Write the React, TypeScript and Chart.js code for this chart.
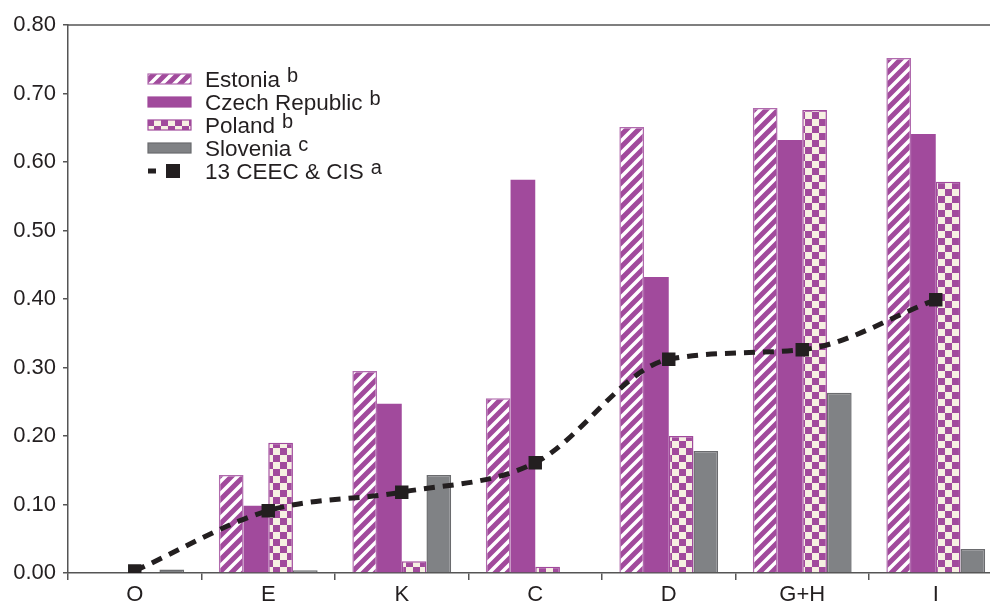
import React, { useEffect, useRef } from 'react';
import { Chart, registerables } from 'chart.js';

Chart.register(...registerables);

const categories = ['O', 'E', 'K', 'C', 'D', 'G+H', 'I'];
const estonia = [0, 0.143, 0.295, 0.255, 0.651, 0.679, 0.752];
const czech = [0, 0.098, 0.247, 0.574, 0.432, 0.632, 0.641];
const poland = [0, 0.190, 0.017, 0.009, 0.200, 0.676, 0.571];
const slovenia = [0.005, 0.004, 0.143, 0, 0.178, 0.263, 0.035];
const ceec = [0.003, 0.091, 0.118, 0.161, 0.312, 0.326, 0.399];

const seriesNames = ['Estonia', 'Czech Republic', 'Poland', 'Slovenia', '13 CEEC & CIS'];
const seriesNotes = ['b', 'b', 'b', 'c', 'a'];

const MAGENTA = '#A14A9C';
const CREAM = '#F6F0E2';
const GREY = '#808285';
const GREY_EDGE = '#6a6b6e';
const BLACK = '#231f20';
const AXIS = '#555555';
const FONT = '"Liberation Sans", Arial, sans-serif';

function stripePattern(ctx: CanvasRenderingContext2D): CanvasPattern | string {
  const s = 12;
  const c = document.createElement('canvas');
  c.width = s;
  c.height = s;
  const g = c.getContext('2d')!;
  g.fillStyle = '#ffffff';
  g.fillRect(0, 0, s, s);
  g.strokeStyle = MAGENTA;
  g.lineWidth = 5;
  g.beginPath();
  g.moveTo(0, s); g.lineTo(s, 0);
  g.moveTo(-s / 2, s / 2); g.lineTo(s / 2, -s / 2);
  g.moveTo(s / 2, s * 1.5); g.lineTo(s * 1.5, s / 2);
  g.stroke();
  return ctx.createPattern(c, 'repeat') || MAGENTA;
}

function checkerPattern(ctx: CanvasRenderingContext2D): CanvasPattern | string {
  const c = document.createElement('canvas');
  c.width = 14;
  c.height = 14;
  const g = c.getContext('2d')!;
  g.fillStyle = CREAM;
  g.fillRect(0, 0, 14, 14);
  g.fillStyle = MAGENTA;
  g.fillRect(0, 0, 7, 7);
  g.fillRect(7, 7, 7, 7);
  return ctx.createPattern(c, 'repeat') || MAGENTA;
}

export default function App() {
  const ref = useRef<HTMLCanvasElement | null>(null);

  useEffect(() => {
    const canvas = ref.current;
    if (!canvas) return;
    const ctx = canvas.getContext('2d')!;
    const stripes = stripePattern(ctx);
    const checks = checkerPattern(ctx);

    const frame = {
      id: 'frame',
      afterDraw(chart: any) {
        const { ctx: c, chartArea } = chart;
        c.save();
        c.strokeStyle = AXIS;
        c.lineWidth = 1.5;
        c.beginPath();
        c.moveTo(chartArea.left, chartArea.top);
        c.lineTo(chartArea.right, chartArea.top);
        c.lineTo(chartArea.right, chartArea.bottom);
        c.stroke();
        c.restore();
      },
    };

    const legend = {
      id: 'customLegend',
      afterDraw(chart: any) {
        const c: CanvasRenderingContext2D = chart.ctx;
        const centers = [79, 102, 125, 148, 171];
        const fills: any[] = [stripes, MAGENTA, checks, GREY];
        const edges = ['#b06aad', MAGENTA, MAGENTA, GREY_EDGE];
        c.save();
        for (let i = 0; i < 5; i++) {
          const cy = centers[i];
          if (i < 4) {
            c.fillStyle = fills[i];
            c.fillRect(148, cy - 5, 43, 10);
            c.strokeStyle = edges[i];
            c.lineWidth = 1.2;
            c.strokeRect(148, cy - 5, 43, 10);
          } else {
            c.fillStyle = BLACK;
            c.fillRect(148, cy - 2.5, 8, 5);
            c.fillRect(166, cy - 7, 14, 14);
          }
          c.fillStyle = BLACK;
          c.textBaseline = 'alphabetic';
          c.textAlign = 'left';
          c.font = `22.5px ${FONT}`;
          const name = seriesNames[i];
          c.fillText(name, 205, cy + 8);
          const w = c.measureText(name).width;
          c.font = `20px ${FONT}`;
          c.fillText(seriesNotes[i], 205 + w + 7, cy + 3);
        }
        c.restore();
      },
    };

    const chart = new Chart(canvas, {
      type: 'bar',
      data: {
        labels: categories,
        datasets: [
          {
            type: 'line',
            label: seriesNames[4],
            data: ceec,
            borderColor: BLACK,
            backgroundColor: BLACK,
            borderWidth: 5,
            borderDash: [11, 8],
            borderCapStyle: 'butt',
            cubicInterpolationMode: 'monotone',
            pointStyle: 'rect',
            pointRadius: 9.5,
            pointBorderWidth: 0,
            pointBackgroundColor: BLACK,
            fill: false,
            order: 0,
          } as any,
          {
            label: seriesNames[0],
            data: estonia,
            backgroundColor: stripes as any,
            borderColor: '#b06aad',
            borderWidth: 1.5,
            order: 1,
          },
          {
            label: seriesNames[1],
            data: czech,
            backgroundColor: MAGENTA,
            borderWidth: 0,
            order: 1,
          },
          {
            label: seriesNames[2],
            data: poland,
            backgroundColor: checks as any,
            borderColor: MAGENTA,
            borderWidth: 1.5,
            order: 1,
          },
          {
            label: seriesNames[3],
            data: slovenia,
            backgroundColor: GREY,
            borderColor: GREY_EDGE,
            borderWidth: 1.5,
            order: 1,
          },
        ],
      },
      options: {
        responsive: false,
        animation: false,
        devicePixelRatio: 1,
        layout: { padding: { top: 25, left: 0, right: 0, bottom: 0 } },
        datasets: {
          bar: { categoryPercentage: 0.74, barPercentage: 1.0 },
        },
        plugins: {
          legend: { display: false },
          tooltip: { enabled: false },
          title: { display: false },
        },
        scales: {
          x: {
            type: 'category',
            offset: true,
            grid: {
              offset: true,
              drawOnChartArea: false,
              drawTicks: true,
              tickLength: 7,
              color: AXIS,
              lineWidth: 1.5,
            },
            border: { color: AXIS, width: 1.5 },
            ticks: {
              color: BLACK,
              font: { family: FONT, size: 22 },
              padding: 2,
              maxRotation: 0,
              autoSkip: false,
            },
            afterFit(scale: any) {
              scale.height = 40;
            },
          },
          y: {
            min: 0,
            max: 0.8,
            grid: {
              drawOnChartArea: false,
              drawTicks: true,
              tickLength: 5,
              color: AXIS,
              lineWidth: 1.5,
            },
            border: { color: AXIS, width: 1.5 },
            ticks: {
              stepSize: 0.1,
              color: BLACK,
              font: { family: FONT, size: 22 },
              padding: 7,
              callback: (v: any) => Number(v).toFixed(2),
            },
            afterFit(scale: any) {
              scale.width = 68;
            },
          },
        },
      },
      plugins: [frame, legend],
    });

    return () => chart.destroy();
  }, []);

  return (
    <div
      style={{
        position: 'fixed',
        left: 0,
        top: 0,
        width: 990,
        height: 601,
        overflow: 'hidden',
        background: '#ffffff',
      }}
    >
      <canvas ref={ref} width={1012} height={613} style={{ display: 'block' }} />
    </div>
  );
}
